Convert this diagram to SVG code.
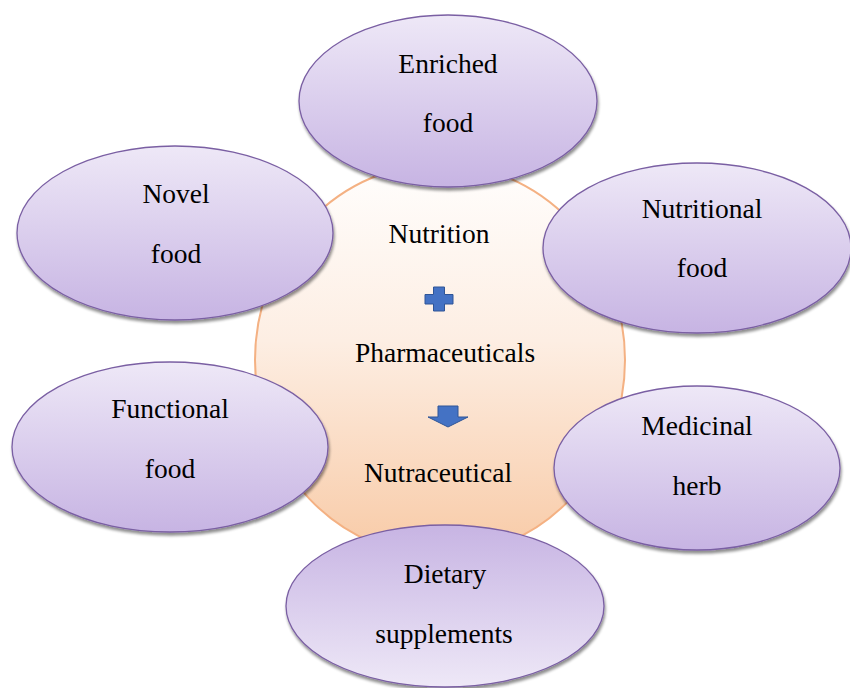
<svg xmlns="http://www.w3.org/2000/svg" width="850" height="688" viewBox="0 0 850 688">
  <defs>
    <linearGradient id="petal" x1="0" y1="0" x2="0" y2="1">
      <stop offset="0" stop-color="#eee8f7"/>
      <stop offset="1" stop-color="#c7b4e3"/>
    </linearGradient>
    <linearGradient id="petalUp" x1="0" y1="1" x2="0" y2="0">
      <stop offset="0" stop-color="#eee8f7"/>
      <stop offset="1" stop-color="#c7b4e3"/>
    </linearGradient>
    <linearGradient id="core" x1="0" y1="0" x2="0" y2="1">
      <stop offset="0" stop-color="#fffefd"/>
      <stop offset="0.45" stop-color="#fdeee3"/>
      <stop offset="1" stop-color="#f8caa6"/>
    </linearGradient>
    <filter id="shadow" x="-10%" y="-10%" width="120%" height="125%">
      <feGaussianBlur in="SourceAlpha" stdDeviation="1.5"/>
      <feOffset dx="1" dy="3" result="b"/>
      <feComponentTransfer><feFuncA type="linear" slope="0.45"/></feComponentTransfer>
      <feMerge><feMergeNode/><feMergeNode in="SourceGraphic"/></feMerge>
    </filter>
  </defs>
  <style>
    .petal { fill: url(#petal); stroke: #7a5fa3; stroke-width: 1.3; filter: url(#shadow); }
    .petal-up { fill: url(#petalUp); stroke: #7a5fa3; stroke-width: 1.3; filter: url(#shadow); }
    .core { fill: url(#core); stroke: #f4b183; stroke-width: 2; }
    .sign { fill: #4472c4; stroke: #2f5597; stroke-width: 1; }
    .label { font-family: "Liberation Serif", "DejaVu Serif", "Times New Roman", serif; font-size: 27.5px; fill: #000; text-anchor: middle; }
  </style>

  <rect width="850" height="688" fill="#ffffff"/>

  <!-- central hub -->
  <g id="hub">
    <ellipse class="core" cx="440" cy="360" rx="185" ry="196"/>
    <text class="label" x="439" y="243">Nutrition</text>
    <path class="sign" d="M433.5,287 h11 v7.5 h8.5 v9.5 h-8.5 v7 h-11 v-7 h-8.5 v-9.5 h8.5 z"/>
    <text class="label" x="445" y="362">Pharmaceuticals</text>
    <path class="sign" d="M438,406 h20 v11 h10 l-20,10 l-20,-10 h10 z"/>
    <text class="label" x="438" y="482">Nutraceutical</text>
  </g>

  <!-- connectors: none drawn, the petals sit directly on the hub -->
  <g id="connectors"/>

  <g id="novel-food">
    <ellipse class="petal" cx="175" cy="233" rx="158" ry="87"/>
    <text class="label" x="176" y="203">Novel</text>
    <text class="label" x="176" y="263">food</text>
  </g>

  <g id="nutritional-food">
    <ellipse class="petal" cx="697" cy="248" rx="154" ry="85"/>
    <text class="label" x="702" y="218">Nutritional</text>
    <text class="label" x="702" y="277">food</text>
  </g>

  <g id="functional-food">
    <ellipse class="petal" cx="170" cy="447" rx="158" ry="85"/>
    <text class="label" x="170" y="418">Functional</text>
    <text class="label" x="170" y="478">food</text>
  </g>

  <g id="medicinal-herb">
    <ellipse class="petal" cx="697" cy="468" rx="143" ry="82"/>
    <text class="label" x="697" y="435">Medicinal</text>
    <text class="label" x="697" y="495">herb</text>
  </g>

  <g id="enriched-food">
    <ellipse class="petal" cx="448" cy="101" rx="149" ry="86"/>
    <text class="label" x="448" y="73">Enriched</text>
    <text class="label" x="448" y="132">food</text>
  </g>

  <g id="dietary-supplements">
    <ellipse class="petal-up" cx="445" cy="606" rx="159" ry="81"/>
    <text class="label" x="445" y="583">Dietary</text>
    <text class="label" x="444" y="643">supplements</text>
  </g>
</svg>
